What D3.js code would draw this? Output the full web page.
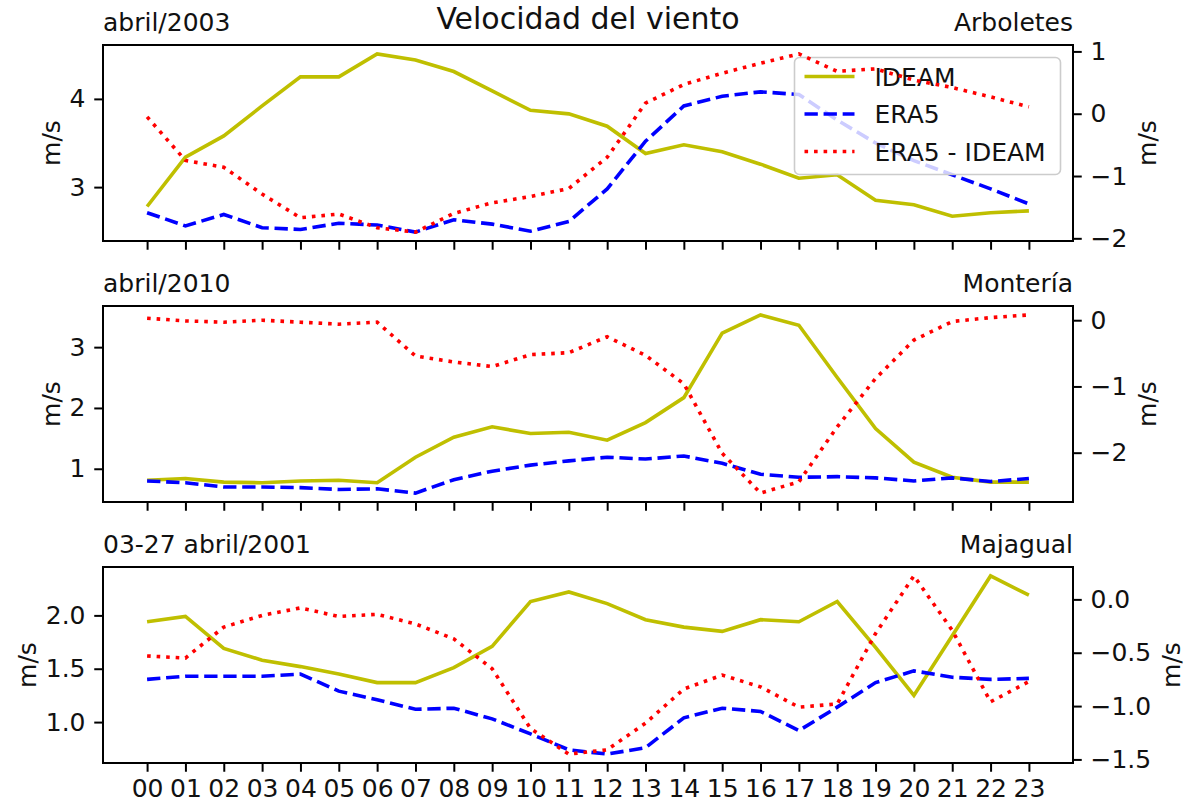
<!DOCTYPE html>
<html lang="es">
<head>
<meta charset="utf-8">
<title>Velocidad del viento</title>
<script src="https://d3js.org/d3.v7.min.js"></script>
<style>
  body { margin: 0; background: #fff; }
  text { font-family: "DejaVu Sans", sans-serif; fill: #111; }
</style>
</head>
<body>
<div id="chart"></div>
<script>

// horas del día (eje x compartido)
const hours = ["00","01","02","03","04","05","06","07","08","09","10","11",
               "12","13","14","15","16","17","18","19","20","21","22","23"];

// Arboletes, abril/2003
const ideam1 = [2.78,3.34,3.58,3.92,4.25,4.25,4.51,4.44,4.31,4.09,3.87,3.83,
                3.69,3.38,3.48,3.40,3.26,3.10,3.14,2.85,2.80,2.67,2.71,2.73];
const era51  = [2.71,2.56,2.69,2.54,2.52,2.59,2.57,2.49,2.63,2.58,2.50,2.61,
                2.98,3.52,3.92,4.03,4.08,4.05,3.76,3.50,3.30,3.14,2.98,2.81];
const diff1  = [-0.05,-0.75,-0.86,-1.29,-1.67,-1.61,-1.83,-1.90,-1.60,-1.43,-1.33,-1.20,
                -0.70,0.17,0.47,0.65,0.81,0.96,0.68,0.72,0.54,0.42,0.27,0.11];

// Montería, abril/2010
const ideam2 = [0.81,0.84,0.78,0.77,0.80,0.81,0.77,1.19,1.52,1.69,1.58,1.60,
                1.47,1.76,2.17,3.23,3.53,3.36,2.50,1.66,1.11,0.86,0.78,0.78];
const era52  = [0.80,0.77,0.70,0.70,0.69,0.66,0.67,0.60,0.82,0.96,1.06,1.13,
                1.19,1.16,1.21,1.09,0.91,0.86,0.87,0.85,0.80,0.85,0.79,0.84];
const diff2  = [0.03,-0.01,-0.03,0.00,-0.03,-0.06,-0.03,-0.54,-0.63,-0.70,-0.52,-0.49,
                -0.25,-0.53,-0.96,-2.01,-2.61,-2.44,-1.61,-0.88,-0.30,-0.02,0.04,0.08];

// Majagual, 03-27 abril/2001
const ideam3 = [1.94,1.99,1.69,1.58,1.52,1.45,1.37,1.37,1.51,1.71,2.13,2.22,
                2.11,1.96,1.89,1.85,1.96,1.94,2.13,1.70,1.25,1.81,2.37,2.19];
const era53  = [1.40,1.43,1.43,1.43,1.45,1.29,1.21,1.12,1.13,1.03,0.89,0.74,
                0.70,0.76,1.04,1.13,1.10,0.92,1.14,1.37,1.48,1.42,1.40,1.41];
const diff3  = [-0.53,-0.55,-0.26,-0.15,-0.08,-0.16,-0.14,-0.23,-0.37,-0.65,-1.21,-1.45,
                -1.41,-1.16,-0.84,-0.71,-0.82,-1.01,-0.98,-0.32,0.22,-0.29,-0.96,-0.77];

// textos y marcas de los ejes
const leftTitles  = ["abril/2003", "abril/2010", "03-27 abril/2001"];
const rightTitles = ["Arboletes", "Montería", "Majagual"];
const leftTicks   = [[3, 4], [1, 2, 3], [1.0, 1.5, 2.0]];
const rightTicks  = [[-2, -1, 0, 1], [-2, -1, 0], [-1.5, -1.0, -0.5, 0.0]];
const tickFormats = ["d", "d", ".1f"];
const seriesNames = ["IDEAM", "ERA5", "ERA5 - IDEAM"];

const panels = [
  { ideam: ideam1, era5: era51, diff: diff1 },
  { ideam: ideam2, era5: era52, diff: diff2 },
  { ideam: ideam3, era5: era53, diff: diff3 }
];

const width = 1190, height = 803;
const margin = { left: 103, right: 117 };
const panelTop = [45, 306, 567];
const panelH = 196;
const fs = 25;              // 10pt
const tickLen = 8.75, tickPad = 8.75, labelPad = 10;
const lw = 3.6;

const svg = d3.select("#chart").append("svg")
  .attr("width", width).attr("height", height)
  .attr("viewBox", [0, 0, width, height]);

// scalePoint: padding en pasos; 5% de 23 pasos = 1.15
const x = d3.scalePoint()
  .domain(hours)
  .range([margin.left, width - margin.right])
  .padding(1.15);

function padded(values) {
  const [lo, hi] = d3.extent(values);
  const m = (hi - lo) * 0.05;
  return [lo - m, hi + m];
}

const colors = { ideam: "#bfbf00", era5: "#0000ff", diff: "#ff0000" };
const dashed = `${3.7 * lw},${1.6 * lw}`;
const dotted = `${1 * lw},${1.65 * lw}`;

svg.append("text")
  .attr("x", 588).attr("y", 29)
  .attr("text-anchor", "middle")
  .attr("font-size", 30)
  .text("Velocidad del viento");

panels.forEach((p, i) => {
  const top = panelTop[i], bottom = top + panelH;
  const g = svg.append("g");

  const y = d3.scaleLinear()
    .domain(padded(p.ideam.concat(p.era5)))
    .range([bottom, top]);
  const y2 = d3.scaleLinear()
    .domain(padded(p.diff))
    .range([bottom, top]);

  // eje x
  const xAxis = g.append("g")
    .attr("transform", `translate(0,${bottom})`)
    .call(d3.axisBottom(x).tickSize(tickLen).tickPadding(tickPad - 1)
      .tickFormat(i === 2 ? d => d : () => ""));
  xAxis.select(".domain").remove();

  // eje izquierdo
  const yAxis = g.append("g")
    .attr("transform", `translate(${margin.left},0)`)
    .call(d3.axisLeft(y).tickValues(leftTicks[i]).tickSize(tickLen).tickPadding(tickPad)
      .tickFormat(d3.format(tickFormats[i])));
  yAxis.select(".domain").remove();

  // eje derecho
  const y2Axis = g.append("g")
    .attr("transform", `translate(${width - margin.right},0)`)
    .call(d3.axisRight(y2).tickValues(rightTicks[i]).tickSize(tickLen).tickPadding(tickPad)
      .tickFormat(d3.format(tickFormats[i])));
  y2Axis.select(".domain").remove();

  g.selectAll(".tick line").attr("stroke", "#000").attr("stroke-width", 2);
  g.selectAll(".tick text").attr("font-size", fs)
    .attr("font-family", "DejaVu Sans").attr("fill", "#111");

  // etiquetas m/s
  const w1 = d3.max(yAxis.selectAll(".tick text").nodes(), n => n.getComputedTextLength());
  const w2 = d3.max(y2Axis.selectAll(".tick text").nodes(), n => n.getComputedTextLength());
  const mid = (top + bottom) / 2;
  g.append("text")
    .attr("transform", `translate(${margin.left - tickLen - tickPad - w1 - labelPad},${mid}) rotate(-90)`)
    .attr("text-anchor", "middle").attr("font-size", fs).text("m/s");
  g.append("text")
    .attr("transform", `translate(${width - margin.right + tickLen + tickPad + w2 + labelPad + 19},${mid}) rotate(-90)`)
    .attr("text-anchor", "middle").attr("font-size", fs).text("m/s");

  // títulos del panel
  g.append("text").attr("x", margin.left).attr("y", top - 14)
    .attr("font-size", fs).text(leftTitles[i]);
  g.append("text").attr("x", width - margin.right).attr("y", top - 14)
    .attr("text-anchor", "end").attr("font-size", fs).text(rightTitles[i]);

  const line = yy => d3.line().x((d, k) => x(hours[k])).y(d => yy(d));

  g.append("path").datum(p.ideam)
    .attr("fill", "none").attr("stroke", colors.ideam).attr("stroke-width", lw)
    .attr("d", line(y));
  g.append("path").datum(p.era5)
    .attr("fill", "none").attr("stroke", colors.era5).attr("stroke-width", lw)
    .attr("stroke-dasharray", dashed)
    .attr("d", line(y));

  // leyenda (solo en el primer panel, debajo de la línea roja)
  if (i === 0) {
    const lgW = 266, lgH = 117;
    const lg = g.append("g")
      .attr("transform", `translate(${width - margin.right - fs / 2 - lgW},${top + fs / 2})`);
    lg.append("rect").attr("width", lgW).attr("height", lgH).attr("rx", 5)
      .attr("fill", "#fff").attr("fill-opacity", 0.8)
      .attr("stroke", "#cccccc").attr("stroke-width", 1.6);
    const styles = [
      { c: colors.ideam, dash: null },
      { c: colors.era5, dash: dashed },
      { c: colors.diff, dash: dotted }
    ];
    seriesNames.forEach((name, k) => {
      const yy = 19 + k * 37.5;
      lg.append("line").attr("x1", 10).attr("x2", 60).attr("y1", yy).attr("y2", yy)
        .attr("stroke", styles[k].c).attr("stroke-width", lw)
        .attr("stroke-dasharray", styles[k].dash);
      lg.append("text").attr("x", 80).attr("y", yy + 9)
        .attr("font-size", fs).text(name);
    });
  }

  g.append("path").datum(p.diff)
    .attr("fill", "none").attr("stroke", colors.diff).attr("stroke-width", lw)
    .attr("stroke-dasharray", dotted)
    .attr("d", line(y2));

  // marco
  g.append("rect")
    .attr("x", margin.left).attr("y", top)
    .attr("width", width - margin.left - margin.right).attr("height", panelH)
    .attr("fill", "none").attr("stroke", "#000").attr("stroke-width", 2);
});

</script>
</body>
</html>
